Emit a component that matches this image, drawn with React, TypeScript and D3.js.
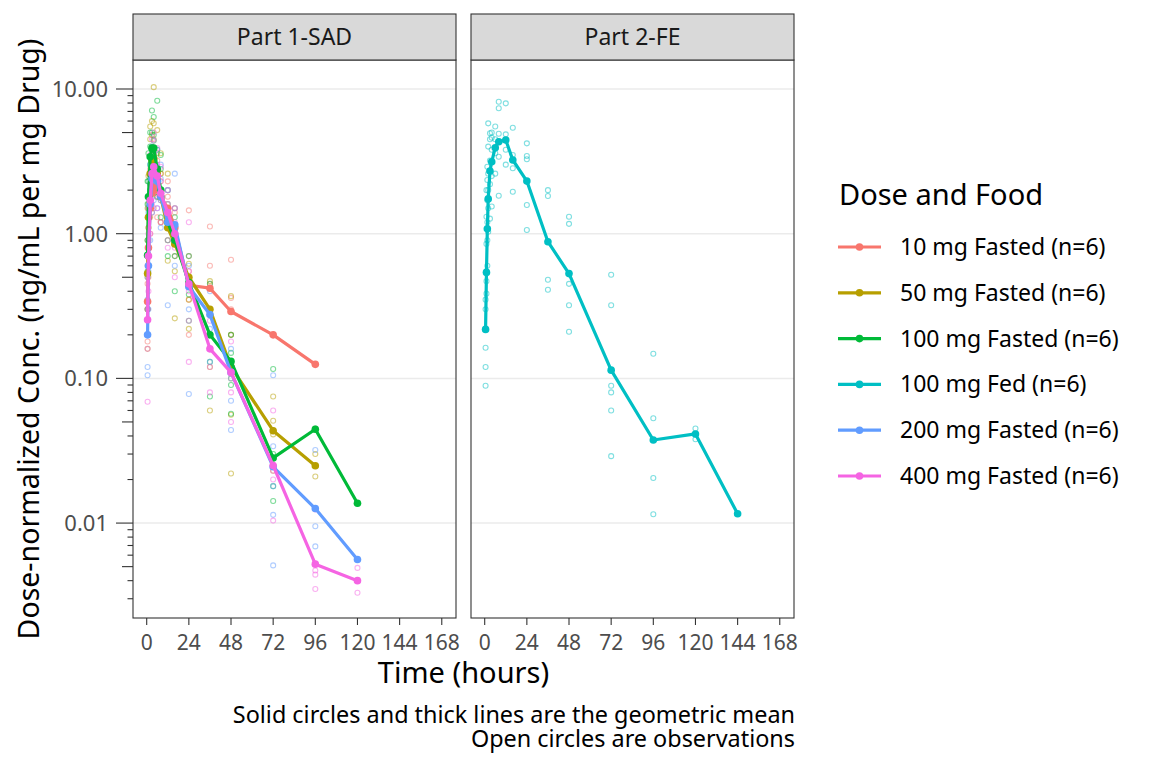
import * as d3 from 'd3';
import * as React from 'react';

// ---- data ----
const groups = [
  '10 mg Fasted (n=6)',
  '50 mg Fasted (n=6)',
  '100 mg Fasted (n=6)',
  '100 mg Fed (n=6)',
  '200 mg Fasted (n=6)',
  '400 mg Fasted (n=6)',
];
const groupColors = ['#F8766D', '#B79F00', '#00BA38', '#00BFC4', '#619CFF', '#F564E3'];
const panels = ['Part 1-SAD', 'Part 2-FE'];
const xTicks = [0, 24, 48, 72, 96, 120, 144, 168];
const yTicks = [0.01, 0.1, 1, 10];

const sadTimes = [0.5, 1, 2, 3, 4, 6, 8, 12, 16, 24, 36, 48, 72, 96, 120];
const feTimes = [0.5, 1, 1.5, 2, 3, 4, 6, 8, 12, 16, 24, 36, 48, 72, 96, 120, 144];

// geometric means (same order as the time arrays, shorter where the curve ends)
const mean10 = [0.34, 0.8, 1.5, 1.9, 2.1, 2.0, 1.8, 1.5, 1.1, 0.44, 0.42, 0.29, 0.2, 0.125];
const mean50 = [0.53, 1.3, 2.6, 3.2, 3.3, 2.6, 1.8, 1.1, 0.85, 0.5, 0.3, 0.12, 0.0435, 0.0249];
const mean100 = [0.71, 1.8, 3.4, 3.9, 3.9, 2.8, 2.0, 1.2, 0.9, 0.46, 0.2, 0.131, 0.0282, 0.0445, 0.0137];
const mean200 = [0.2, 0.6, 1.6, 2.4, 2.6, 2.3, 1.8, 1.2, 1.15, 0.43, 0.276, 0.11, 0.0245, 0.0126, 0.0056];
const mean400 = [0.254, 0.7, 1.7, 2.6, 2.9, 2.5, 1.9, 1.4, 1.0, 0.45, 0.16, 0.11, 0.025, 0.0052, 0.004];
const meanFed = [0.218, 0.54, 1.08, 1.74, 2.71, 3.14, 3.93, 4.32, 4.44, 3.23, 2.31, 0.88, 0.53, 0.114, 0.0375, 0.0413, 0.0116];

// observations, one list of values per time point
const obs10 = [
  [0.18, 0.3, 0.45, 0.6, 0.25], [0.5, 0.9, 1.3, 0.7, 1.1], [1.0, 1.6, 2.2, 2.8, 1.3], [1.4, 2.0, 2.6, 3.3],
  [1.5, 2.2, 2.9, 3.6, 4.5], [1.3, 1.9, 2.6, 3.2], [1.2, 1.7, 2.3, 2.6], [0.9, 1.3, 1.8, 2.3],
  [0.7, 1.0, 1.4], [0.2, 0.35, 0.55, 0.7, 1.45], [0.3, 0.45, 0.6, 1.12], [0.2, 0.3, 0.36, 0.66],
  [0.2], [0.125],
];
const obs50 = [
  [0.16, 0.3, 0.5, 0.9, 1.5], [0.6, 1.1, 1.6, 2.5], [1.8, 2.6, 3.4, 4.5, 5.5], [2.3, 3.5, 4.8, 6.0],
  [2.2, 3.3, 4.4, 5.8, 10.3], [1.8, 2.6, 3.6, 5.2], [1.2, 1.9, 2.6, 3.6], [0.65, 0.9, 1.3, 2.6],
  [0.26, 0.55, 0.9, 1.5], [0.22, 0.35, 0.5, 0.62], [0.06, 0.12, 0.3, 0.47], [0.022, 0.056, 0.1, 0.2, 0.37],
  [0.023, 0.041, 0.051, 0.075], [0.021, 0.03],
];
const obs100 = [
  [0.3, 0.55, 0.9, 1.6, 2.3], [0.8, 1.5, 2.3, 3.6], [2.0, 3.0, 4.0, 5.0], [2.6, 3.8, 5.0, 7.1],
  [2.5, 3.5, 4.8, 6.4], [1.8, 2.6, 3.8, 8.3], [1.3, 2.0, 2.8, 3.5], [0.7, 1.1, 1.6, 2.0],
  [0.4, 0.7, 1.0, 1.3], [0.25, 0.38, 0.5, 0.7], [0.075, 0.13, 0.2, 0.3, 0.45], [0.057, 0.09, 0.15, 0.2],
  [0.0142, 0.018, 0.03, 0.116], [0.045], [0.0137],
];
const obs200 = [
  [0.105, 0.12, 0.2, 0.35, 0.5], [0.3, 0.55, 0.9, 1.4], [0.9, 1.5, 2.2, 3.0], [1.4, 2.2, 3.0, 4.0],
  [1.7, 2.5, 3.3, 4.4], [1.5, 2.2, 2.9, 3.8], [1.1, 1.7, 2.4, 3.0], [0.32, 0.9, 1.4, 2.0],
  [0.6, 1.0, 1.5, 2.6], [0.078, 0.3, 0.45, 0.6], [0.13, 0.22, 0.3, 0.4], [0.044, 0.07, 0.1, 0.16],
  [0.0051, 0.0114, 0.018, 0.034, 0.105], [0.0069, 0.0095, 0.032], [0.0056],
];
const obs400 = [
  [0.069, 0.16, 0.2, 0.3, 0.7], [0.4, 0.7, 1.0, 1.5], [1.0, 1.7, 2.5, 3.5], [1.6, 2.5, 3.3, 4.5],
  [1.8, 2.7, 3.6, 5.0], [1.5, 2.3, 3.0, 3.9], [1.2, 1.8, 2.3, 2.9], [0.8, 1.2, 1.6, 2.0],
  [0.5, 0.8, 1.2, 1.5], [0.13, 0.25, 0.4, 0.55, 1.2], [0.08, 0.12, 0.2, 0.25], [0.05, 0.08, 0.12, 0.18],
  [0.0104, 0.02, 0.023, 0.06], [0.0035, 0.0044, 0.0047, 0.0124], [0.0033, 0.0049],
];
const obsFed = [
  [0.089, 0.12, 0.163, 0.22, 0.3, 0.35], [0.385, 0.47, 0.55, 0.85, 1.31, 2.0], [0.6, 0.9, 1.2, 1.7, 2.35, 2.9],
  [1.03, 1.5, 2.0, 2.6, 4.0, 5.79], [1.27, 2.2, 3.2, 4.5, 4.94], [1.54, 2.5, 3.8, 4.6, 5.0],
  [2.6, 3.6, 4.5, 5.5], [1.83, 3.4, 4.9, 7.36, 8.17], [3.0, 3.8, 4.86, 7.96], [1.95, 2.83, 3.5, 5.4],
  [1.06, 1.58, 3.27, 3.44, 4.21], [0.41, 0.48, 1.82, 2.0], [0.21, 0.32, 0.45, 1.17, 1.31],
  [0.029, 0.06, 0.08, 0.089, 0.32, 0.52], [0.0115, 0.0205, 0.053, 0.148], [0.038, 0.045], [0.0116],
];

interface ISeries {
  group: number;
  panel: number;
  times: number[];
  mean: number[];
  obs: number[][];
}

const series: ISeries[] = [
  { group: 0, panel: 0, times: sadTimes, mean: mean10, obs: obs10 },
  { group: 1, panel: 0, times: sadTimes, mean: mean50, obs: obs50 },
  { group: 2, panel: 0, times: sadTimes, mean: mean100, obs: obs100 },
  { group: 4, panel: 0, times: sadTimes, mean: mean200, obs: obs200 },
  { group: 5, panel: 0, times: sadTimes, mean: mean400, obs: obs400 },
  { group: 3, panel: 1, times: feTimes, mean: meanFed, obs: obsFed },
];

// ---- layout ----
const W = 1152;
const H = 768;
const panelX = [133, 471];
const panelW = 323;
const top = 60;
const bottom = 618;
const stripTop = 14;
const font = '"Noto Sans", "DejaVu Sans", sans-serif';

const y = d3.scaleLog().domain([Math.pow(10, -2.656), Math.pow(10, 1.2004)]).range([bottom, top]);

const minorTicks = (): { v: number; len: number }[] => {
  const res: { v: number; len: number }[] = [];
  for (let e = -3; e <= 1; e++) {
    for (let m = 1; m <= 9; m++) {
      const v = m * Math.pow(10, e);
      if (v < y.domain()[0] || v > y.domain()[1]) continue;
      res.push({ v, len: m === 1 ? 17 : m === 5 ? 11 : 5.5 });
    }
  }
  return res;
};

const Panel = ({ idx }: { idx: number }) => {
  const x0 = panelX[idx];
  const x = d3.scaleLinear().domain([-7.8, 176.1]).range([x0, x0 + panelW]);
  const line = d3.line<[number, number]>().x((d) => x(d[0])).y((d) => y(d[1]));
  const items = series.filter((s) => s.panel === idx);
  return (
    <g>
      <rect x={x0} y={top} width={panelW} height={bottom - top} fill="white" />
      {yTicks.map((t) => (
        <line key={t} x1={x0} x2={x0 + panelW} y1={y(t)} y2={y(t)} stroke="#EBEBEB" strokeWidth={1.5} />
      ))}
      {items.map((s) =>
        s.obs.map((vals, ti) =>
          vals.map((v, k) => (
            <circle
              key={`${s.group}-${ti}-${k}`}
              cx={x(s.times[ti])}
              cy={y(v)}
              r={2.5}
              fill="none"
              stroke={groupColors[s.group]}
              strokeOpacity={0.5}
              strokeWidth={1.1}
            />
          )),
        ),
      )}
      {items.map((s) => {
        const pts = s.mean.map((v, i) => [s.times[i], v] as [number, number]);
        return (
          <g key={s.group}>
            <path d={line(pts) || ''} fill="none" stroke={groupColors[s.group]} strokeWidth={3.2} strokeLinejoin="round" />
            {pts.map((p, i) => (
              <circle key={i} cx={x(p[0])} cy={y(p[1])} r={3.8} fill={groupColors[s.group]} />
            ))}
          </g>
        );
      })}
      <rect x={x0} y={top} width={panelW} height={bottom - top} fill="none" stroke="#333333" strokeWidth={1.1} />
      <rect x={x0} y={stripTop} width={panelW} height={top - stripTop} fill="#D9D9D9" stroke="#333333" strokeWidth={1.1} />
      <text x={x0 + panelW / 2} y={(stripTop + top) / 2 + 8} textAnchor="middle" fontSize={23} fill="#1A1A1A">
        {panels[idx]}
      </text>
      {xTicks.map((t) => (
        <g key={t}>
          <line x1={x(t)} x2={x(t)} y1={bottom} y2={bottom + 7} stroke="#333333" strokeWidth={1.1} />
          <text x={x(t)} y={650} textAnchor="middle" fontSize={21} fill="#4D4D4D">
            {t}
          </text>
        </g>
      ))}
    </g>
  );
};

const App = () => {
  const legendY = d3.scaleLinear().domain([0, 5]).range([247, 476]);
  return (
    <svg width={W} height={H} style={{ position: 'absolute', left: 0, top: 0 }} fontFamily={font}>
      <rect width={W} height={H} fill="white" />
      <Panel idx={0} />
      <Panel idx={1} />
      {minorTicks().map((t) => (
        <line key={t.v} x1={panelX[0] - t.len} x2={panelX[0]} y1={y(t.v)} y2={y(t.v)} stroke="#333333" strokeWidth={1.1} />
      ))}
      {yTicks.map((t) => (
        <text key={t} x={108} y={y(t) + 8} textAnchor="end" fontSize={22} fill="#4D4D4D">
          {d3.format('.2f')(t)}
        </text>
      ))}
      <text x={(panelX[0] + panelX[1] + panelW) / 2} y={683} textAnchor="middle" fontSize={29} fill="black">
        Time (hours)
      </text>
      <text
        transform={`translate(39, ${(top + bottom) / 2}) rotate(-90)`}
        textAnchor="middle"
        fontSize={28.5}
        fill="black"
      >
        Dose-normalized Conc. (ng/mL per mg Drug)
      </text>
      <text x={795} y={723} textAnchor="end" fontSize={23.4} fill="black">
        Solid circles and thick lines are the geometric mean
      </text>
      <text x={795} y={747} textAnchor="end" fontSize={23.4} fill="black">
        Open circles are observations
      </text>
      <text x={839} y={205} fontSize={29} fill="black">
        Dose and Food
      </text>
      {groups.map((g, i) => (
        <g key={g} transform={`translate(0, ${legendY(i)})`}>
          <line x1={838} x2={881} y1={0} y2={0} stroke={groupColors[i]} strokeWidth={3.2} />
          <circle cx={859.5} cy={0} r={3.8} fill={groupColors[i]} />
          <text x={900} y={8} fontSize={23} fill="black">
            {g}
          </text>
        </g>
      ))}
    </svg>
  );
};

export default App;
